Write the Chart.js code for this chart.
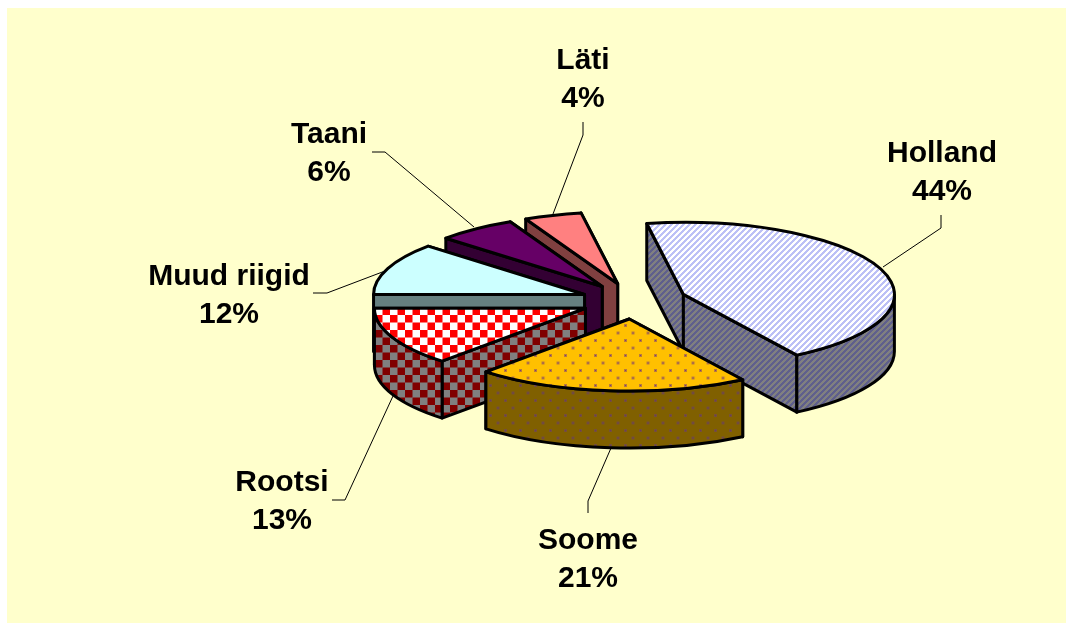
<!DOCTYPE html>
<html>
<head>
<meta charset="utf-8">
<style>
  html, body { margin: 0; padding: 0; background: #fff; }
  canvas { display: block; }
</style>
<script src="https://cdn.jsdelivr.net/npm/chart.js@4"></script>
</head>
<body>
<canvas id="chart" width="1066" height="623"></canvas>
<script>
const countries = ['Holland', 'Soome', 'Rootsi', 'Muud riigid', 'Taani', 'Läti'];
// slice sizes, the printed labels are rounded
const shares = [43.7, 20.9, 13.1, 11.7, 6.1, 4.4];
const shareLabels = ['44%', '21%', '13%', '12%', '6%', '4%'];

// back to front, the walls overlap
const drawOrder = [5, 4, 3, 2, 0, 1];

// label text spot and leader line for each slice, same order as countries
const labelSpots = [
  { x: 942, y: 162, leader: [[941, 215], [941, 228], [883, 267]] },
  { x: 588, y: 549, leader: [[588, 513], [588, 501], [611, 448]] },
  { x: 282, y: 491, leader: [[332, 500], [345, 500], [393, 396]] },
  { x: 229, y: 285, leader: [[313, 293], [327, 293], [385, 271]] },
  { x: 329, y: 143, leader: [[372, 152], [385, 152], [474, 227]] },
  { x: 583, y: 69, leader: [[583, 122], [583, 135], [553, 214]] }
];

const squash = 72 / 211;
const depth = 57;
const explode = 53;

function tile(size, paint) {
  const c = document.createElement('canvas');
  c.width = c.height = size;
  paint(c.getContext('2d'), size);
  return c.getContext('2d').createPattern(c, 'repeat');
}

function stripes(bg, fg) {
  return tile(6, (g, s) => {
    g.fillStyle = bg;
    g.fillRect(0, 0, s, s);
    g.fillStyle = fg;
    for (let x = 0; x < s; x++) {
      for (let y = 0; y < s; y++) {
        if ((x + y) % 6 < 3) g.fillRect(x, y, 1, 1);
      }
    }
  });
}

function dots(bg, fg, core) {
  return tile(15, (g, s) => {
    g.fillStyle = bg;
    g.fillRect(0, 0, s, s);
    [[3, 3], [10.5, 10.5]].forEach(([x, y]) => {
      g.fillStyle = fg;
      g.fillRect(x - 1.5, y - 1.5, 3, 3);
      g.fillStyle = core;
      g.fillRect(x - 0.5, y - 0.5, 1, 1);
    });
  });
}

function checks(a, b) {
  return tile(15, (g, s) => {
    g.fillStyle = a;
    g.fillRect(0, 0, s, s);
    g.fillStyle = b;
    g.fillRect(0, 0, 7.5, 7.5);
    g.fillRect(7.5, 7.5, 7.5, 7.5);
  });
}

const faceFills = [
  stripes('#ffffff', '#bcc0f6'),
  dots('#ffc000', '#b87a40', '#80406a'),
  checks('#ffffff', '#ff0000'),
  '#ccffff',
  '#660066',
  '#ff8080'
];
const wallFills = [
  stripes('#808080', '#5f5f8c'),
  dots('#806000', '#75503a', '#6a3a60'),
  checks('#808080', '#800000'),
  '#668080',
  '#330033',
  '#804040'
];

function outline(ctx) {
  ctx.strokeStyle = '#000';
  ctx.lineWidth = 3;
  ctx.lineJoin = 'round';
  ctx.stroke();
}

const extrudedPie = {
  id: 'extrudedPie',
  beforeDraw(chart) {
    const ctx = chart.ctx;
    ctx.save();
    ctx.fillStyle = '#ffffcc';
    ctx.fillRect(7, 8, chart.width - 7, chart.height - 8);
    ctx.restore();
  },
  beforeDatasetDraw(chart, args) {
    const ctx = chart.ctx;
    drawOrder.forEach(i => {
      const arc = args.meta.data[i];
      const { x, y, startAngle, endAngle, outerRadius } = arc;
      const mid = (startAngle + endAngle) / 2;
      const ax = x + Math.cos(mid) * explode;
      const ay = y + Math.sin(mid) * explode * squash;
      const a = outerRadius;
      const b = outerRadius * squash;

      // flat side walls, the one further back first
      [startAngle, endAngle]
        .sort((p, q) => Math.sin(p) - Math.sin(q))
        .forEach(t => {
          const ex = ax + Math.cos(t) * a;
          const ey = ay + Math.sin(t) * b;
          ctx.beginPath();
          ctx.moveTo(ax, ay);
          ctx.lineTo(ex, ey);
          ctx.lineTo(ex, ey + depth);
          ctx.lineTo(ax, ay + depth);
          ctx.closePath();
          ctx.fillStyle = wallFills[i];
          ctx.fill();
          outline(ctx);
        });

      // round wall, only the part that faces the viewer
      for (let k = -1; k <= 1; k++) {
        const t1 = Math.max(startAngle, k * 2 * Math.PI);
        const t2 = Math.min(endAngle, k * 2 * Math.PI + Math.PI);
        if (t2 <= t1) continue;
        ctx.beginPath();
        ctx.ellipse(ax, ay, a, b, 0, t1, t2);
        ctx.ellipse(ax, ay + depth, a, b, 0, t2, t1, true);
        ctx.closePath();
        ctx.fillStyle = wallFills[i];
        ctx.fill();
        outline(ctx);
      }

      // top face is the library's own arc, flattened
      ctx.save();
      ctx.translate(ax, ay);
      ctx.scale(1, squash);
      ctx.translate(-x, -y);
      const fill = arc.options.backgroundColor;
      if (fill instanceof CanvasPattern) fill.setTransform(ctx.getTransform().inverse());
      arc.draw(ctx);
      ctx.restore();

      ctx.beginPath();
      ctx.moveTo(ax, ay);
      ctx.ellipse(ax, ay, a, b, 0, startAngle, endAngle);
      ctx.closePath();
      outline(ctx);
    });
    return false;
  },
  afterDatasetsDraw(chart) {
    const ctx = chart.ctx;
    ctx.save();
    ctx.textAlign = 'center';
    ctx.textBaseline = 'alphabetic';
    ctx.font = 'bold 30px "Liberation Sans", Arial, sans-serif';
    ctx.fillStyle = '#000';
    ctx.strokeStyle = '#000';
    ctx.lineWidth = 1;
    labelSpots.forEach((spot, i) => {
      ctx.beginPath();
      spot.leader.forEach(([px, py], n) => (n ? ctx.lineTo(px, py) : ctx.moveTo(px, py)));
      ctx.stroke();
      ctx.fillText(countries[i], spot.x, spot.y);
      ctx.fillText(shareLabels[i], spot.x, spot.y + 38);
    });
    ctx.restore();
  }
};

new Chart(document.getElementById('chart'), {
  type: 'pie',
  data: {
    labels: countries,
    datasets: [{ data: shares, backgroundColor: faceFills, borderWidth: 0 }]
  },
  options: {
    responsive: false,
    animation: false,
    devicePixelRatio: 1,
    rotation: -10,
    radius: 211,
    layout: { padding: { left: 202, bottom: 21 } },
    plugins: { legend: { display: false }, tooltip: { enabled: false } }
  },
  plugins: [extrudedPie]
});
</script>
</body>
</html>
